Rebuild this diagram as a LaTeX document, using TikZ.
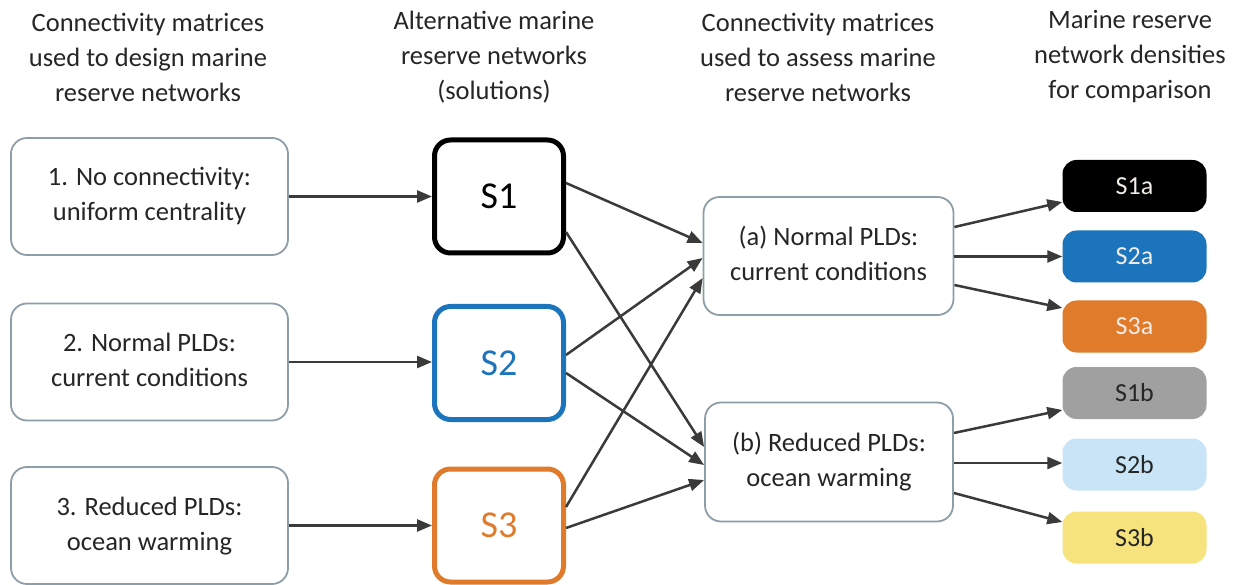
\documentclass[tikz,border=0pt]{standalone}
\usepackage{fontspec}
\setmainfont{Carlito}
\usetikzlibrary{arrows.meta,calc}
\definecolor{bordergray}{HTML}{8E9EA8}
\definecolor{txt}{HTML}{262626}
\definecolor{arrowc}{HTML}{3A3A3A}
\definecolor{sblue}{HTML}{1C75BC}
\definecolor{sorange}{HTML}{E07B2B}
\definecolor{sgray}{HTML}{A0A0A0}
\definecolor{slblue}{HTML}{C8E4F6}
\definecolor{syellow}{HTML}{F6E37E}
\definecolor{paletxt}{HTML}{F2ECE6}
\begin{document}
\begin{tikzpicture}[x=1pt,y=-1pt,
  hdr/.style={align=center,font=\fontsize{26.5}{35}\selectfont,text=txt,inner sep=0pt},
  lbox/.style={draw=bordergray,line width=1.8pt,rounded corners=16pt,minimum width=277pt,minimum height=117pt,align=center,font=\fontsize{26.5}{35}\selectfont,text=txt,inner sep=0pt},
  sbox/.style={line width=5pt,rounded corners=16pt,minimum width=129pt,minimum height=113pt,inner sep=0pt,font=\fontsize{38}{40}\selectfont},
  rbox/.style={rounded corners=14pt,minimum width=144pt,minimum height=52pt,inner sep=0pt,font=\fontsize{26}{30}\selectfont},
  arr/.style={draw=arrowc,line width=2.5pt,-{Triangle[length=15pt,width=12pt]}}
]
\useasboundingbox[fill=white] (0,0) rectangle (1242,585);
% headers
\node[hdr] (h1) at (148,57) {Connectivity matrices\\used to design marine\\reserve networks};
\node[hdr] (h2) at (494,57) {Alternative marine\\reserve networks\\(solutions)};
\node[hdr] (h3) at (818,57) {Connectivity matrices\\used to assess marine\\reserve networks};
\node[hdr] (h4) at (1130,57) {Marine reserve\\network densities\\for comparison};
% left boxes
\node[lbox] (L1) at (149.5,196.5) {\raisebox{-3pt}{\begin{tabular}{@{}c@{}}1. No connectivity:\\uniform centrality\end{tabular}}};
\node[lbox] (L2) at (149.5,362) {\raisebox{-3pt}{\begin{tabular}{@{}c@{}}2. Normal PLDs:\\current conditions\end{tabular}}};
\node[lbox] (L3) at (149.5,525.5) {\raisebox{-4pt}{\begin{tabular}{@{}c@{}}3. Reduced PLDs:\\ocean warming\end{tabular}}};
% solution boxes
\node[sbox,draw=black,text=black] (S1) at (499,196.5) {S1};
\node[sbox,draw=sblue,text=sblue] (S2) at (499,363) {S2};
\node[sbox,draw=sorange,text=sorange] (S3) at (499,525.5) {S3};
% assessment boxes
\node[lbox,minimum width=250pt,minimum height=118pt] (A) at (828.5,256) {\raisebox{-2pt}{\begin{tabular}{@{}c@{}}(a) Normal PLDs:\\current conditions\end{tabular}}};
\node[lbox,minimum width=248pt,minimum height=119pt] (B) at (829,462) {\raisebox{-2pt}{\begin{tabular}{@{}c@{}}(b) Reduced PLDs:\\ocean warming\end{tabular}}};
% result boxes
\node[rbox,fill=black,text=paletxt] (S1a) at (1134.5,186) {S1a};
\node[rbox,fill=sblue,text=paletxt] (S2a) at (1134.5,256.5) {S2a};
\node[rbox,fill=sorange,text=paletxt] (S3a) at (1134.5,326.5) {S3a};
\node[rbox,fill=sgray,text=txt] (S1b) at (1134.5,393) {S1b};
\node[rbox,fill=slblue,text=txt] (S2b) at (1134.5,464.5) {S2b};
\node[rbox,fill=syellow,text=txt] (S3b) at (1134.5,537.5) {S3b};
% arrows left -> solutions
\draw[arr] (L1.east) -- (L1.east -| S1.west);
\draw[arr] (L2.east) -- (L2.east -| S2.west);
\draw[arr] (L3.east) -- (L3.east -| S3.west);
% solutions -> assessments
\draw[arr] ($(S1.east)+(0,-13.5)$) -- ($(A.west)+(0,-13)$);
\draw[arr] ($(S1.east)+(0,35.5)$) -- ($(B.west)+(0,-15)$);
\draw[arr] ($(S2.east)+(0,-8)$) -- ($(A.west)+(0,2)$);
\draw[arr] ($(S2.east)+(0,10)$) -- ($(B.west)+(0,3)$);
\draw[arr] ($(S3.east)+(0,-18.5)$) -- ($(A.west)+(0,22)$);
\draw[arr] ($(S3.east)+(0,2.5)$) -- ($(B.west)+(0,18)$);
% assessments -> results
\draw[arr] ($(A.east)+(0,-29)$) -- ($(S1a.west)+(0,16)$);
\draw[arr] ($(A.east)+(0,0.5)$) -- (S2a.west);
\draw[arr] ($(A.east)+(0,29)$) -- ($(S3a.west)+(0,-18.5)$);
\draw[arr] ($(B.east)+(0,-29)$) -- ($(S1b.west)+(0,17)$);
\draw[arr] ($(B.east)+(0,1)$) -- ($(S2b.west)+(0,-1.5)$);
\draw[arr] ($(B.east)+(0,31)$) -- ($(S3b.west)+(0,-15.5)$);
\end{tikzpicture}
\end{document}
